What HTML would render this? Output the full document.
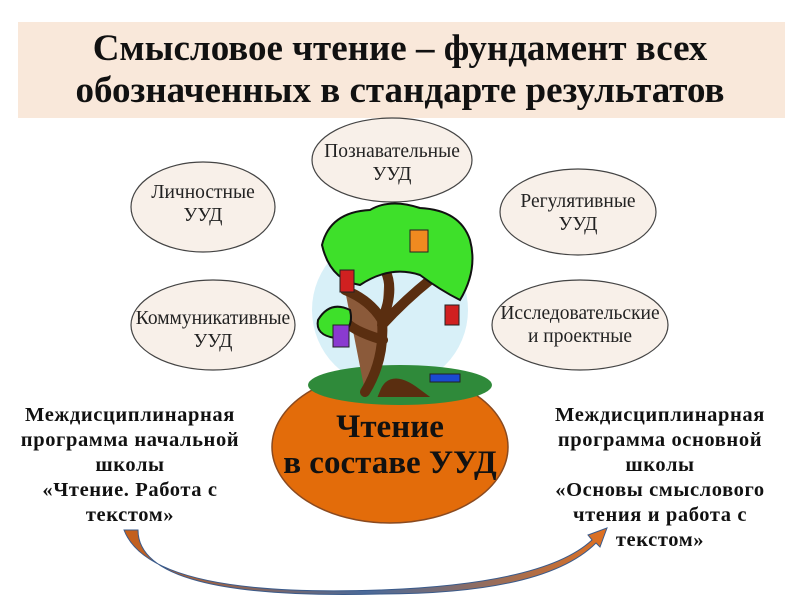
<!DOCTYPE html>
<html><head><meta charset="utf-8"><style>
body{margin:0;width:800px;height:600px;background:#fff;overflow:hidden;position:relative;font-family:"Liberation Serif",serif}
.band{position:absolute;left:18px;top:22px;width:767px;height:96px;background:#f9e8da}
.title{position:absolute;left:0;width:800px;text-align:center;font-weight:bold;font-size:37px;line-height:42px;top:28px;color:#111}
.t{position:absolute;text-align:center;font-size:19.5px;line-height:23px;color:#222}
.b{position:absolute;text-align:center;font-weight:bold;font-size:20.5px;letter-spacing:0.6px;line-height:25px;color:#111}
</style></head><body>
<div class="band"></div>
<div class="title">Смысловое чтение – фундамент всех<br>обозначенных в стандарте результатов</div>
<svg width="800" height="600" style="position:absolute;left:0;top:0">
<defs><linearGradient id="ag" x1="0" x2="1"><stop offset="0" stop-color="#c8601a"/><stop offset="0.5" stop-color="#4a6a9a"/><stop offset="1" stop-color="#e07020"/></linearGradient></defs>
<g fill="#f8f0e9" stroke="#444" stroke-width="1.2">
<ellipse cx="392" cy="160" rx="80" ry="42"/>
<ellipse cx="203" cy="207" rx="72" ry="45"/>
<ellipse cx="578" cy="212" rx="78" ry="43"/>
<ellipse cx="213" cy="325" rx="82" ry="45"/>
<ellipse cx="580" cy="325" rx="88" ry="45"/>
</g>
<ellipse cx="390" cy="447" rx="118" ry="76" fill="#e36c0a" stroke="#8a4a20" stroke-width="1.5"/>
<circle cx="390" cy="310" r="78" fill="#d8f0f8"/>
<ellipse cx="400" cy="385" rx="92" ry="20" fill="#2f8a3a"/>
<path d="M365 392 Q385 360 382 320 Q370 300 345 290 M382 320 Q395 290 385 270 M382 325 Q405 300 430 280 M383 340 Q350 330 345 320 M385 392 Q392 375 415 392 Z" stroke="#5a2e10" stroke-width="10" fill="#8b5a3a" stroke-linecap="round"/>
<g fill="#3ee02a" stroke="#111" stroke-width="2">
<path d="M322 245 Q330 212 370 210 Q390 198 420 208 Q460 210 470 240 Q478 270 460 300 Q440 290 420 275 Q390 265 360 285 Q330 280 322 245 Z"/>
<path d="M318 320 Q330 300 350 310 Q355 330 335 338 Q315 335 318 320 Z"/>
</g>
<rect x="410" y="230" width="18" height="22" fill="#f08a20" stroke="#222"/>
<rect x="340" y="270" width="14" height="22" fill="#d02020" stroke="#222"/>
<rect x="333" y="325" width="16" height="22" fill="#8a3ad0" stroke="#222"/>
<rect x="445" y="305" width="14" height="20" fill="#d02020" stroke="#222"/>
<rect x="430" y="374" width="30" height="8" fill="#1a4ad0" stroke="#222"/>
<path d="M124 530 Q150 598 380 590 Q545 584 592 540 L588 535 L607 528 L600 547 L596 543 Q545 594 380 594 Q138 600 138 530 Z" fill="url(#ag)" stroke="#3a5a8a"/>
</svg>
<div class="t" style="left:282px;top:140px;width:220px">Познавательные<br>УУД</div>
<div class="t" style="left:103px;top:181px;width:200px">Личностные<br>УУД</div>
<div class="t" style="left:478px;top:190px;width:200px">Регулятивные<br>УУД</div>
<div class="t" style="left:103px;top:307px;width:220px">Коммуникативные<br>УУД</div>
<div class="t" style="left:470px;top:302px;width:220px">Исследовательские<br>и проектные</div>
<div class="b" style="left:240px;top:409px;width:300px;font-size:33px;letter-spacing:0;line-height:36px">Чтение<br>в составе УУД</div>
<div class="b" style="left:-10px;top:403px;width:280px">Междисциплинарная<br>программа начальной<br>школы<br>«Чтение. Работа с<br>текстом»</div>
<div class="b" style="left:520px;top:403px;width:280px">Междисциплинарная<br>программа основной<br>школы<br>«Основы смыслового<br>чтения и работа с<br>текстом»</div>
</body></html>
